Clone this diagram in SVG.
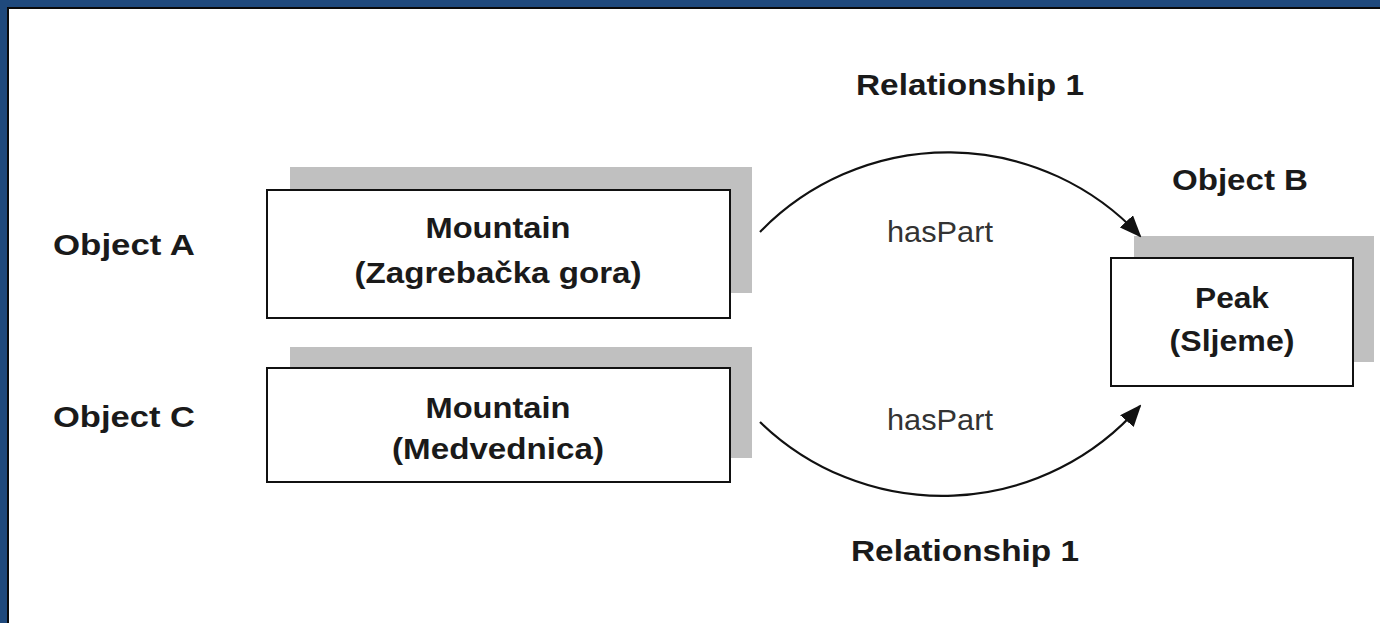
<svg xmlns="http://www.w3.org/2000/svg" width="1380" height="623" viewBox="0 0 1380 623">
<defs>
<style>
.lbl{font-family:"Liberation Sans",Arial,sans-serif;font-weight:bold;font-size:29px;fill:#1a1a1a}
.rel{font-family:"Liberation Sans",Arial,sans-serif;font-size:29px;fill:#333}
.shadow{fill:#c0c0c0}
.box{fill:#fff;stroke:#111;stroke-width:2}
.conn{fill:none;stroke:#111;stroke-width:2.2}
</style>
<marker id="arr" viewBox="0 0 22 18" refX="20" refY="9" markerWidth="22" markerHeight="18" markerUnits="userSpaceOnUse" orient="auto">
<path d="M0,0 L22,9 L0,18 Z" fill="#111"/>
</marker>
</defs>
<g id="frame">
<rect x="0" y="0" width="1380" height="623" fill="#1f497c"/>
<rect x="7" y="7" width="1373" height="616" fill="#0a0a0a"/>
<rect x="9" y="9" width="1371" height="614" fill="#fff"/>
</g>
<g id="labels">
<text class="lbl" x="970" y="95" text-anchor="middle" textLength="228" lengthAdjust="spacingAndGlyphs">Relationship 1</text>
<text class="lbl" x="1240" y="190" text-anchor="middle" textLength="136" lengthAdjust="spacingAndGlyphs">Object B</text>
<text class="lbl" x="53" y="255" textLength="142" lengthAdjust="spacingAndGlyphs">Object A</text>
<text class="lbl" x="53" y="427" textLength="142" lengthAdjust="spacingAndGlyphs">Object C</text>
<text class="lbl" x="965" y="561" text-anchor="middle" textLength="228" lengthAdjust="spacingAndGlyphs">Relationship 1</text>
</g>
<g id="nodeA">
<rect class="shadow" x="290" y="167" width="462" height="126"/>
<rect class="box" x="267" y="190" width="463" height="128"/>
<text class="lbl" x="498" y="238" text-anchor="middle" textLength="145" lengthAdjust="spacingAndGlyphs">Mountain</text>
<text class="lbl" x="498" y="283" text-anchor="middle" textLength="287" lengthAdjust="spacingAndGlyphs">(Zagrebačka gora)</text>
</g>
<g id="nodeC">
<rect class="shadow" x="290" y="347" width="462" height="111"/>
<rect class="box" x="267" y="368" width="463" height="114"/>
<text class="lbl" x="498" y="418" text-anchor="middle" textLength="145" lengthAdjust="spacingAndGlyphs">Mountain</text>
<text class="lbl" x="498" y="459" text-anchor="middle" textLength="212" lengthAdjust="spacingAndGlyphs">(Medvednica)</text>
</g>
<g id="nodeB">
<rect class="shadow" x="1134" y="236" width="240" height="126"/>
<rect class="box" x="1111" y="258" width="242" height="128"/>
<text class="lbl" x="1232" y="308" text-anchor="middle" textLength="74" lengthAdjust="spacingAndGlyphs">Peak</text>
<text class="lbl" x="1232" y="351" text-anchor="middle" textLength="125" lengthAdjust="spacingAndGlyphs">(Sljeme)</text>
</g>
<g id="connectors">
<path class="conn" d="M760,232 A262,262 0 0 1 1140,236" marker-end="url(#arr)"/>
<text class="rel" x="940" y="242" text-anchor="middle" textLength="106" lengthAdjust="spacingAndGlyphs">hasPart</text>
<path class="conn" d="M760,422 A262,262 0 0 0 1140,406" marker-end="url(#arr)"/>
<text class="rel" x="940" y="430" text-anchor="middle" textLength="106" lengthAdjust="spacingAndGlyphs">hasPart</text>
</g>
</svg>
